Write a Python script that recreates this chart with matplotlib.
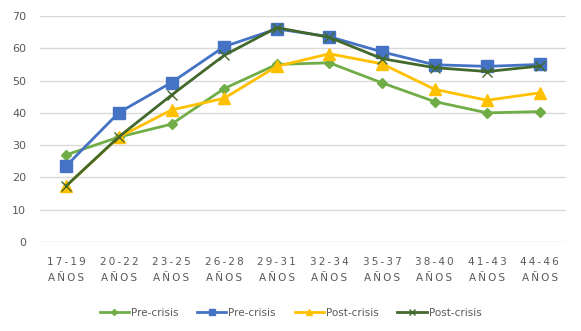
import matplotlib
matplotlib.use("Agg")
import matplotlib.pyplot as plt
import numpy as np

categorias = ["17-19", "20-22", "23-25", "26-28", "29-31", "32-34", "35-37", "38-40", "41-43", "44-46"]
pre_rombo = [27, 32.5, 36.5, 47.5, 55, 55.5, 49.3, 43.5, 40, 40.4]
pre_cuadro = [23.6, 40.1, 49.4, 60.5, 66, 63.6, 58.9, 54.9, 54.4, 55]
post_triang = [17.4, 32.5, 40.9, 44.5, 54.4, 58.3, 55.2, 47.3, 43.9, 46.2]
post_x = [17.4, 32.6, 45.5, 57.8, 66.4, 63.4, 56.8, 54, 52.8, 54.5]
series_nombres = ["Pre-crisis", "Pre-crisis", "Post-crisis", "Post-crisis"]

def espaciar(s):
    return "\u2009".join(s)

etiquetas = [espaciar(c) + "\n" + espaciar("AÑOS") for c in categorias]

fig = plt.figure(figsize=(5.81, 3.31), dpi=100)
ax = fig.add_axes([40/581, 1-242/331, 526/581, 226/331])
x = np.arange(len(categorias))

ax.plot(x, pre_rombo, color="#70AD47", lw=2, marker="D", ms=5, label=series_nombres[0])
ax.plot(x, pre_cuadro, color="#4472C4", lw=2, marker="s", ms=8, label=series_nombres[1])
ax.plot(x, post_triang, color="#FFC000", lw=2, marker="^", ms=8, label=series_nombres[2])
ax.plot(x, post_x, color="#43682B", lw=2, marker="x", ms=7, mew=1, label=series_nombres[3])

ax.set_xlim(-0.5, 9.5)
ax.set_ylim(0, 70)
ax.set_yticks(range(0, 71, 10))
ax.yaxis.grid(True, color="#D9D9D9", lw=1)
ax.set_axisbelow(True)
for s in ax.spines.values():
    s.set_visible(False)
ax.set_xticks(x)
ax.set_xticklabels(etiquetas, fontsize=7.5, color="#595959", linespacing=1.75)
ax.tick_params(axis="both", length=0, colors="#595959", labelsize=8)
ax.tick_params(axis="x", pad=11, labelsize=7.5)
ax.tick_params(axis="y", pad=10)

fig.legend(loc="center", bbox_to_anchor=(0.5, 1-313/331), ncol=4, frameon=False,
           fontsize=7.5, labelcolor="#595959", handlelength=2.8, handletextpad=0.2,
           columnspacing=1.8, markerscale=0.6)

fig.savefig("out.png", dpi=100)
